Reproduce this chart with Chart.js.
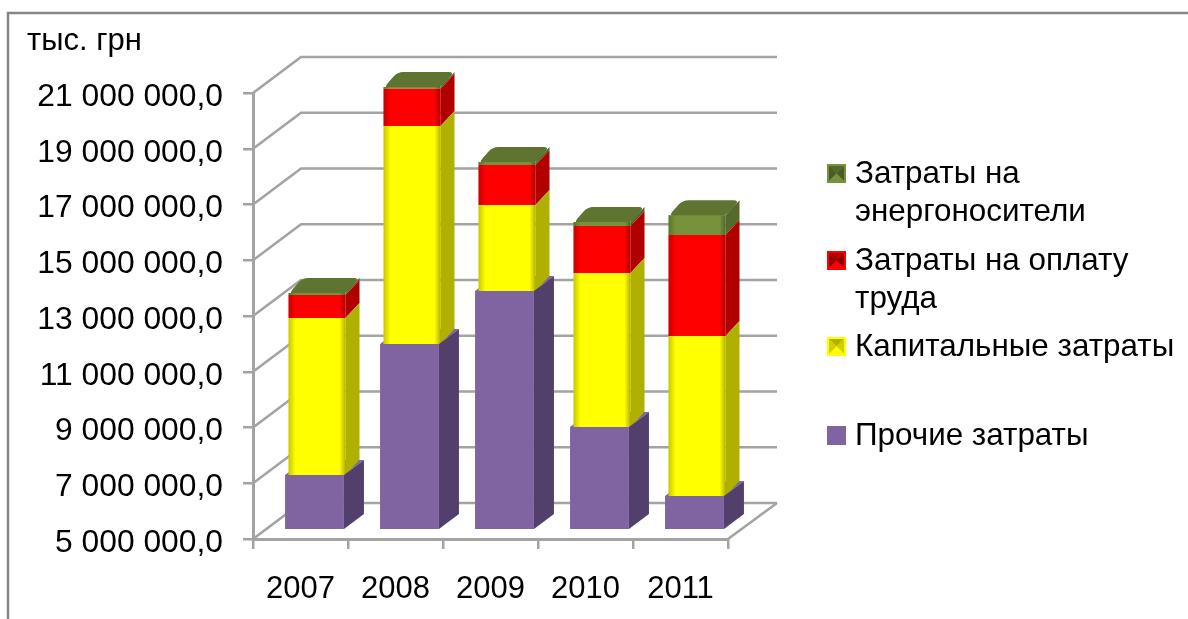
<!DOCTYPE html>
<html lang="ru">
<head>
<meta charset="utf-8">
<title>Затраты</title>
<script src="https://cdn.jsdelivr.net/npm/chart.js@4/dist/chart.umd.min.js"></script>
<style>
    html, body { margin: 0; padding: 0; background: #fff; }
    canvas { display: block; }
</style>
</head>
<body>
<canvas id="costs" width="1188" height="619"></canvas>
<script>
// Dane wykresu
const years = ['2007', '2008', '2009', '2010', '2011'];
const otherCosts = [6940000, 11640000, 13540000, 8660000, 6180000];
const capitalCosts = [5630000, 7820000, 3085000, 5525000, 5740000];
const laborCosts = [825000, 1330000, 1435000, 1686000, 3623000];
const energyCosts = [70000, 70000, 108000, 143000, 717000];
const seriesNames = ['Прочие затраты', 'Капитальные затраты', 'Затраты на оплату труда', 'Затраты на энергоносители'];
const unitLabel = 'тыс. грн';

const FONT = '"Liberation Sans", Arial, sans-serif';
const GRID = '#a3a3a3';
const WALL_DX = 48, WALL_DY = 36;   // głębokość ścian
const LIFT_X = 14, LIFT_Y = 10;     // odsunięcie słupków od przedniej krawędzi

// front, bok, przesunięcie x, głębokość słupka
const faces = [
    { front: '#8064a2', side: '#533f6c', mid: '#8064a2', shift: 0, dx: 20, dy: 15, round: false },
    { front: '#ffff00', side: '#b0b000', mid: '#d0d000', shift: 2.5, dx: 14, dy: 15, round: true },
    { front: '#ff0000', side: '#b00000', mid: '#8c0000', shift: 2.5, dx: 14, dy: 15, round: true },
    { front: '#76923c', side: '#56692c', mid: '#4a5c26', shift: 2.5, dx: 14, dy: 15, round: true }
];

function formatTick(v) {
    const s = String(Math.round(v)).replace(/\B(?=(\d{3})+$)/g, ' ');
    return s + ',0';
}

// Wielokąt ze ściętymi łukiem narożnikami
function roundedPoly(ctx, pts, cut) {
    const n = pts.length;
    ctx.beginPath();
    pts.forEach((p, i) => {
        const prev = pts[(i + n - 1) % n], next = pts[(i + 1) % n];
        const lenA = Math.hypot(prev[0] - p[0], prev[1] - p[1]);
        const lenB = Math.hypot(next[0] - p[0], next[1] - p[1]);
        const ax = p[0] + (prev[0] - p[0]) * cut / lenA, ay = p[1] + (prev[1] - p[1]) * cut / lenA;
        const bx = p[0] + (next[0] - p[0]) * cut / lenB, by = p[1] + (next[1] - p[1]) * cut / lenB;
        if (i === 0) ctx.moveTo(ax, ay); else ctx.lineTo(ax, ay);
        ctx.quadraticCurveTo(p[0], p[1], bx, by);
    });
    ctx.closePath();
}

// Ściany i siatka w rzucie ukośnym
const wallsPlugin = {
    id: 'walls',
    beforeDraw(chart) {
        const ctx = chart.ctx;
        ctx.save();
        ctx.strokeStyle = '#868686';
        ctx.lineWidth = 2.5;
        ctx.beginPath();
        ctx.moveTo(8, 619);
        ctx.lineTo(8, 13);
        ctx.lineTo(1188, 13);
        ctx.stroke();
        ctx.restore();
    },
    beforeDatasetsDraw(chart) {
        const { ctx, scales: { y }, chartArea: { left, right, bottom } } = chart;
        ctx.save();
        ctx.strokeStyle = GRID;
        ctx.lineWidth = 2.6;
        y.ticks.forEach(t => {
            const py = y.getPixelForValue(t.value);
            ctx.beginPath();
            ctx.moveTo(left, py);
            ctx.lineTo(left + WALL_DX, py - WALL_DY);
            ctx.lineTo(right + WALL_DX + 1, py - WALL_DY);
            ctx.stroke();
        });
        ctx.beginPath();
        ctx.moveTo(right, bottom);
        ctx.lineTo(right + WALL_DX + 1, bottom - WALL_DY);
        ctx.stroke();

        // wierzch dolnego segmentu, prawie cały przykryty wyższym
        const f = faces[0];
        ctx.translate(LIFT_X, -LIFT_Y);
        ctx.fillStyle = f.front;
        chart.getDatasetMeta(0).data.forEach(bar => {
            const l = bar.x - bar.width / 2;
            const r = bar.x + bar.width / 2;
            ctx.beginPath();
            ctx.moveTo(l, bar.y);
            ctx.lineTo(l + f.dx, bar.y - f.dy);
            ctx.lineTo(r + f.dx, bar.y - f.dy);
            ctx.lineTo(r, bar.y);
            ctx.closePath();
            ctx.fill();
        });
        ctx.restore();
    }
};

// Boki i wierzchy słupków
const barsPlugin = {
    id: 'bars3d',
    beforeDatasetDraw(chart, args) {
        const ctx = chart.ctx;
        const f = faces[args.index];
        const floor = chart.chartArea.bottom;
        ctx.save();
        ctx.translate(LIFT_X + f.shift, -LIFT_Y);
        args.meta.data.forEach(bar => {
            const r = bar.x + bar.width / 2;
            const l = bar.x - bar.width / 2;
            const base = Math.min(bar.base, floor);
            ctx.fillStyle = f.side;
            ctx.beginPath();
            ctx.moveTo(r, base);
            ctx.lineTo(r + f.dx, base - f.dy);
            ctx.lineTo(r + f.dx, bar.y - f.dy);
            ctx.lineTo(r, bar.y);
            ctx.closePath();
            ctx.fill();
            if (args.index === faces.length - 1) {
                ctx.fillStyle = '#5f7430';
                roundedPoly(ctx, [[l, bar.y + 1], [l + f.dx, bar.y - f.dy], [r + f.dx, bar.y - f.dy], [r, bar.y + 1]], 6);
                ctx.fill();
            }
        });
    },
    afterDatasetDraw(chart, args) {
        const ctx = chart.ctx;
        const f = faces[args.index];
        if (f.round) {
            // przyciemnienie krawędzi frontu
            args.meta.data.forEach(bar => {
                const l = bar.x - bar.width / 2;
                const r = bar.x + bar.width / 2;
                const h = bar.base - bar.y;
                let g = ctx.createLinearGradient(l, 0, l + 7, 0);
                g.addColorStop(0, 'rgba(0,0,0,0.22)');
                g.addColorStop(1, 'rgba(0,0,0,0)');
                ctx.fillStyle = g;
                ctx.fillRect(l, bar.y, 7, h);
                g = ctx.createLinearGradient(r - 6, 0, r, 0);
                g.addColorStop(0, 'rgba(0,0,0,0)');
                g.addColorStop(1, 'rgba(0,0,0,0.3)');
                ctx.fillStyle = g;
                ctx.fillRect(r - 6, bar.y, 6, h);
            });
        }
        ctx.restore();
    }
};

// Legenda z ręcznym łamaniem wierszy i podpis jednostki
const captionPlugin = {
    id: 'captions',
    afterDraw(chart) {
        const ctx = chart.ctx;
        ctx.save();
        ctx.fillStyle = '#000';
        ctx.textBaseline = 'middle';
        ctx.font = '31px ' + FONT;
        ctx.fillText(unitLabel, 27, 41);

        const rows = [
            { i: 3, y: 174, lines: ['Затраты на', 'энергоносители'] },
            { i: 2, y: 261, lines: ['Затраты на оплату', 'труда'] },
            { i: 1, y: 347, lines: ['Капитальные затраты'] },
            { i: 0, y: 436, lines: ['Прочие затраты'] }
        ];
        ctx.font = '31.4px ' + FONT;
        rows.forEach(row => {
            drawMarker(ctx, 827, row.y - 10, 19, row.i);
            ctx.fillStyle = '#000';
            row.lines.forEach((line, k) => ctx.fillText(line, 855, row.y + k * 38));
        });
        ctx.restore();
    }
};

// Znacznik legendy: piramidka z czterech trójkątów
function drawMarker(ctx, x, y, s, i) {
    const f = faces[i];
    ctx.fillStyle = f.front;
    ctx.fillRect(x, y, s, s);
    if (!f.round) return;
    const a = x + 2, b = x + s - 2, t = y + 2, d = y + s - 2;
    const cx = x + s / 2, cy = y + s / 2;
    const tri = (color, x1, y1, x2, y2) => {
        ctx.fillStyle = color;
        ctx.beginPath();
        ctx.moveTo(x1, y1);
        ctx.lineTo(x2, y2);
        ctx.lineTo(cx, cy);
        ctx.closePath();
        ctx.fill();
    };
    tri(f.side, a, t, b, t);
    tri(f.mid, a, t, a, d);
    tri(f.mid, b, t, b, d);
    tri(f.front, a, d, b, d);
}

new Chart(document.getElementById('costs'), {
    type: 'bar',
    data: {
        labels: years,
        datasets: [otherCosts, capitalCosts, laborCosts, energyCosts].map((values, i) => ({
            label: seriesNames[i],
            data: values,
            backgroundColor: faces[i].front,
            clip: 0,
            categoryPercentage: 1,
            barPercentage: i === 0 ? 0.62 : 0.6
        }))
    },
    options: {
        responsive: false,
        animation: false,
        events: [],
        layout: { padding: { left: 0, top: 93, right: 460, bottom: 0 } },
        plugins: {
            legend: { display: false },
            tooltip: { enabled: false }
        },
        scales: {
            x: {
                stacked: true,
                afterFit(scale) { scale.height = 80; },
                border: { color: GRID, width: 3 },
                grid: { drawOnChartArea: false, color: GRID, lineWidth: 2.5, tickLength: 10 },
                ticks: { color: '#000', font: { family: FONT, size: 31 }, padding: 22, maxRotation: 0 }
            },
            y: {
                stacked: true,
                min: 5000000,
                max: 21000000,
                afterFit(scale) { scale.width = 253; },
                border: { color: GRID, width: 3 },
                grid: { drawOnChartArea: false, color: GRID, lineWidth: 2.5, tickLength: 10 },
                ticks: {
                    stepSize: 2000000,
                    color: '#000',
                    font: { family: FONT, size: 31.8 },
                    padding: 20,
                    labelOffset: 4,
                    callback: formatTick
                }
            }
        }
    },
    plugins: [wallsPlugin, barsPlugin, captionPlugin]
});
</script>
</body>
</html>
